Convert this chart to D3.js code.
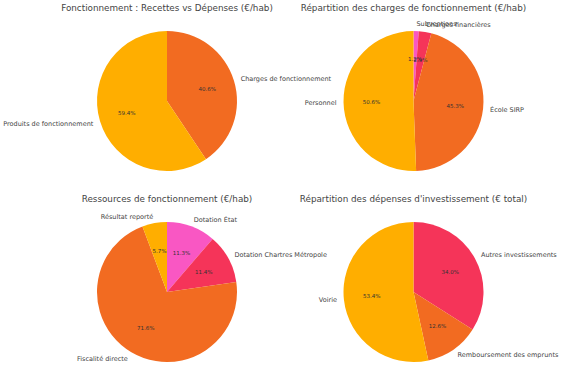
<!DOCTYPE html>
<html><head><meta charset="utf-8">
<script src="https://cdn.jsdelivr.net/npm/d3@7"></script>
<style>body{margin:0;background:#fff}text{font-family:"DejaVu Sans",sans-serif}</style>
</head><body><svg id="c" width="562" height="383"></svg>
<script>
const YEL="#FFAE00", ORA="#F26B21", RED="#F53459", PNK="#F957C3";

const titles = ["Fonctionnement : Recettes vs Dépenses (€/hab)",
  "Répartition des charges de fonctionnement (€/hab)",
  "Ressources de fonctionnement (€/hab)",
  "Répartition des dépenses d'investissement (€ total)"];

const labels1 = ["Charges de fonctionnement","Produits de fonctionnement"];
const values1 = [40.6, 59.4];
const colors1 = [ORA, YEL];

const labels2 = ["Subventions","Charges financières","École SIRP","Personnel"];
const values2 = [1.2, 2.9, 45.3, 50.6];
const colors2 = [PNK, RED, ORA, YEL];

const labels3 = ["Dotation État","Dotation Chartres Métropole","Fiscalité directe","Résultat reporté"];
const values3 = [11.3, 11.4, 71.6, 5.7];
const colors3 = [PNK, RED, ORA, YEL];

const labels4 = ["Autres investissements","Remboursement des emprunts","Voirie"];
const values4 = [34.0, 12.6, 53.4];
const colors4 = [RED, ORA, YEL];

const charts = [
  {labels:labels1, values:values1, colors:colors1, cx:167, cy:101, ty:11},
  {labels:labels2, values:values2, colors:colors2, cx:413.5, cy:101, ty:11},
  {labels:labels3, values:values3, colors:colors3, cx:167, cy:292, ty:202},
  {labels:labels4, values:values4, colors:colors4, cx:413.5, cy:292, ty:202}
];
const R = 70;
const svg = d3.select("#c");
charts.forEach((c,i)=>{
  const g = svg.append("g").attr("transform",`translate(${c.cx},${c.cy})`);
  const pie = d3.pie().sort(null).value(d=>d)(c.values);
  const arc = d3.arc().innerRadius(0).outerRadius(R);
  g.selectAll("path").data(pie).join("path").attr("d",arc).attr("fill",(d,j)=>c.colors[j]);
  pie.forEach((d,j)=>{
    const a=(d.startAngle+d.endAngle)/2;
    const x=Math.sin(a)*R*1.1, y=-Math.cos(a)*R*1.1;
    g.append("text").attr("x",x).attr("y",y).attr("dy","0.35em")
      .attr("text-anchor",x>0?"start":"end").attr("font-size","6.5px").attr("fill","#444")
      .text(c.labels[j]);
    const px=Math.sin(a)*R*0.6, py=-Math.cos(a)*R*0.6;
    g.append("text").attr("x",px).attr("y",py).attr("dy","0.35em")
      .attr("text-anchor","middle").attr("font-size","5.5px").attr("fill","#333")
      .text(d3.format(".1f")(c.values[j])+"%");
  });
  svg.append("text").attr("x",c.cx).attr("y",c.ty).attr("text-anchor","middle")
    .attr("font-size","8.8px").attr("fill","#444").text(titles[i]);
});
</script></body></html>
